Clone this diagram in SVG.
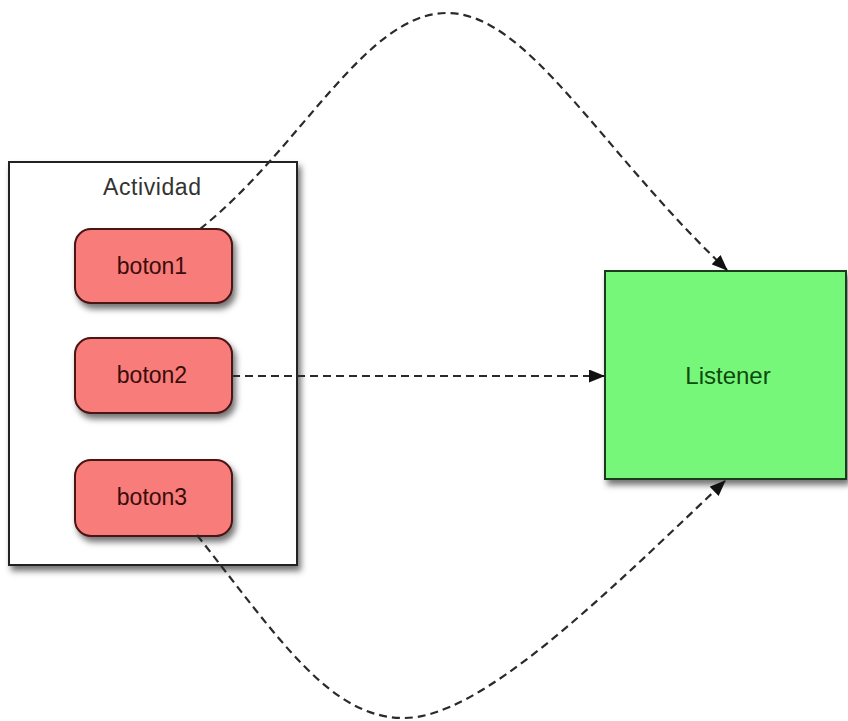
<svg xmlns="http://www.w3.org/2000/svg" width="848" height="721" viewBox="0 0 848 721">
<style>
.lbl{font-family:"Liberation Sans",Arial,Helvetica,sans-serif;text-anchor:middle}
.btn{fill:#f87c79;stroke:#4a1212;stroke-width:2}
.btxt{font-size:23px;fill:#3a0c0c}
.conn{fill:none;stroke:#2a2a2a;stroke-width:2.2;stroke-dasharray:8 5}
</style>
<defs>
<filter id="sh" x="-10%" y="-10%" width="130%" height="130%">
<feDropShadow dx="3" dy="5" stdDeviation="3" flood-color="#000" flood-opacity="0.55"/>
</filter>
<marker id="arr" viewBox="0 0 16 13" refX="15" refY="6.5" markerWidth="16" markerHeight="13" markerUnits="userSpaceOnUse" orient="auto">
<path d="M0,0 L16,6.5 L0,13 z" fill="#111"/>
</marker>
</defs>
<rect width="848" height="721" fill="#fff"/>
<g id="actividad">
<rect x="9" y="162" width="288" height="403" fill="#fff" stroke="#222" stroke-width="2" filter="url(#sh)"/>
<text class="lbl" x="152" y="195" font-size="23" fill="#333" textLength="98" lengthAdjust="spacing">Actividad</text>
</g>
<g id="boton1">
<rect class="btn" x="75" y="229" width="157" height="74" rx="16" filter="url(#sh)"/>
<text class="lbl btxt" x="152" y="274">boton1</text>
</g>
<g id="boton2">
<rect class="btn" x="75" y="338" width="157" height="75" rx="16" filter="url(#sh)"/>
<text class="lbl btxt" x="152" y="383">boton2</text>
</g>
<g id="boton3">
<rect class="btn" x="75" y="460" width="157" height="76" rx="16" filter="url(#sh)"/>
<text class="lbl btxt" x="152" y="505">boton3</text>
</g>
<g id="listener">
<rect x="605" y="271" width="241" height="208" fill="#77f77a" stroke="#1a3a1a" stroke-width="2" filter="url(#sh)"/>
<text class="lbl" x="728" y="384" font-size="24" fill="#0e4a10">Listener</text>
</g>
<g id="connectors">
<path class="conn" d="M200,229 C300,150 365,13 447,13 C528,13 600,150 727,270" marker-end="url(#arr)"/>
<path class="conn" d="M232,376 L604,376" marker-end="url(#arr)"/>
<path class="conn" d="M197,535 C280,640 330,718 404,718 C480,718 600,600 725,481" marker-end="url(#arr)"/>
</g>
</svg>
